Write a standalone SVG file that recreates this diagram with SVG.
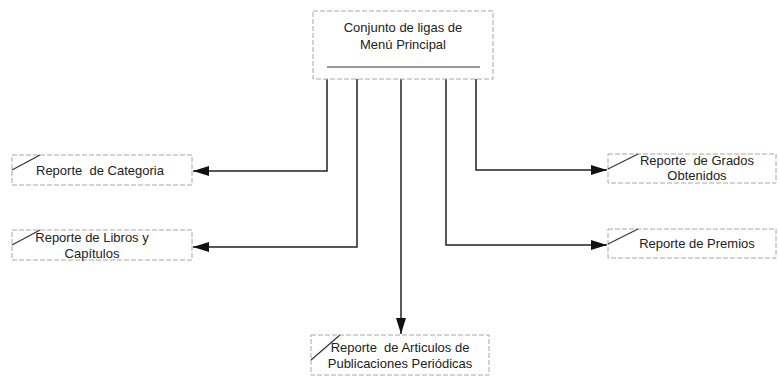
<svg xmlns="http://www.w3.org/2000/svg" width="779" height="380" viewBox="0 0 779 380">
<style>
.box{fill:#fff;stroke:#a8a8a8;stroke-width:1;stroke-dasharray:5 2}
.sl{stroke:#333;stroke-width:1.2;fill:none}
.t{font-family:"Liberation Sans",Arial,sans-serif;font-size:13px;fill:#222;white-space:pre}
.c{stroke:#222;stroke-width:1.5;fill:none}
</style>
<defs>
<marker id="ah" viewBox="0 0 16 10" refX="16" refY="5" markerWidth="16" markerHeight="10" markerUnits="userSpaceOnUse" orient="auto">
<path d="M0,0 L16,5 L0,10 Z" fill="#111"/>
</marker>
</defs>
<rect width="779" height="380" fill="#fff"/>
<g id="connectors">
<path class="c" d="M327,79 V171 H193" marker-end="url(#ah)"/>
<path class="c" d="M357,79 V247 H193" marker-end="url(#ah)"/>
<path class="c" d="M401,79 V334" marker-end="url(#ah)"/>
<path class="c" d="M446,79 V245 H607" marker-end="url(#ah)"/>
<path class="c" d="M476,79 V170 H607" marker-end="url(#ah)"/>
</g>
<g id="menu">
<rect class="box" x="313" y="11" width="180" height="68"/>
<text class="t" x="403" y="32" text-anchor="middle">Conjunto de ligas de</text>
<text class="t" x="403" y="49" text-anchor="middle">Menú Principal</text>
<line x1="327" y1="67" x2="480" y2="67" stroke="#333" stroke-width="1.2"/>
</g>
<g id="categoria">
<rect class="box" x="12" y="155" width="180" height="30"/>
<line class="sl" x1="12" y1="170" x2="40" y2="155"/>
<text class="t" x="36" y="175" xml:space="preserve">Reporte  de Categoria</text>
</g>
<g id="libros">
<rect class="box" x="12" y="230" width="180" height="30"/>
<line class="sl" x1="12" y1="245" x2="40" y2="230"/>
<text class="t" x="92" y="242" text-anchor="middle">Reporte de Libros y</text>
<text class="t" x="92" y="258" text-anchor="middle">Capítulos</text>
</g>
<g id="grados">
<rect class="box" x="608" y="154" width="168" height="29"/>
<line class="sl" x1="608" y1="169" x2="638" y2="154"/>
<text class="t" x="697" y="165" text-anchor="middle" xml:space="preserve">Reporte  de Grados</text>
<text class="t" x="697" y="180" text-anchor="middle">Obtenidos</text>
</g>
<g id="premios">
<rect class="box" x="608" y="229" width="168" height="29"/>
<line class="sl" x1="608" y1="244" x2="638" y2="229"/>
<text class="t" x="697" y="248" text-anchor="middle">Reporte de Premios</text>
</g>
<g id="articulos">
<rect class="box" x="311" y="335" width="178" height="40"/>
<line class="sl" x1="311" y1="360" x2="340" y2="335"/>
<text class="t" x="400" y="352" text-anchor="middle" xml:space="preserve">Reporte  de Articulos de</text>
<text class="t" x="400" y="368" text-anchor="middle">Publicaciones Periódicas</text>
</g>
</svg>
